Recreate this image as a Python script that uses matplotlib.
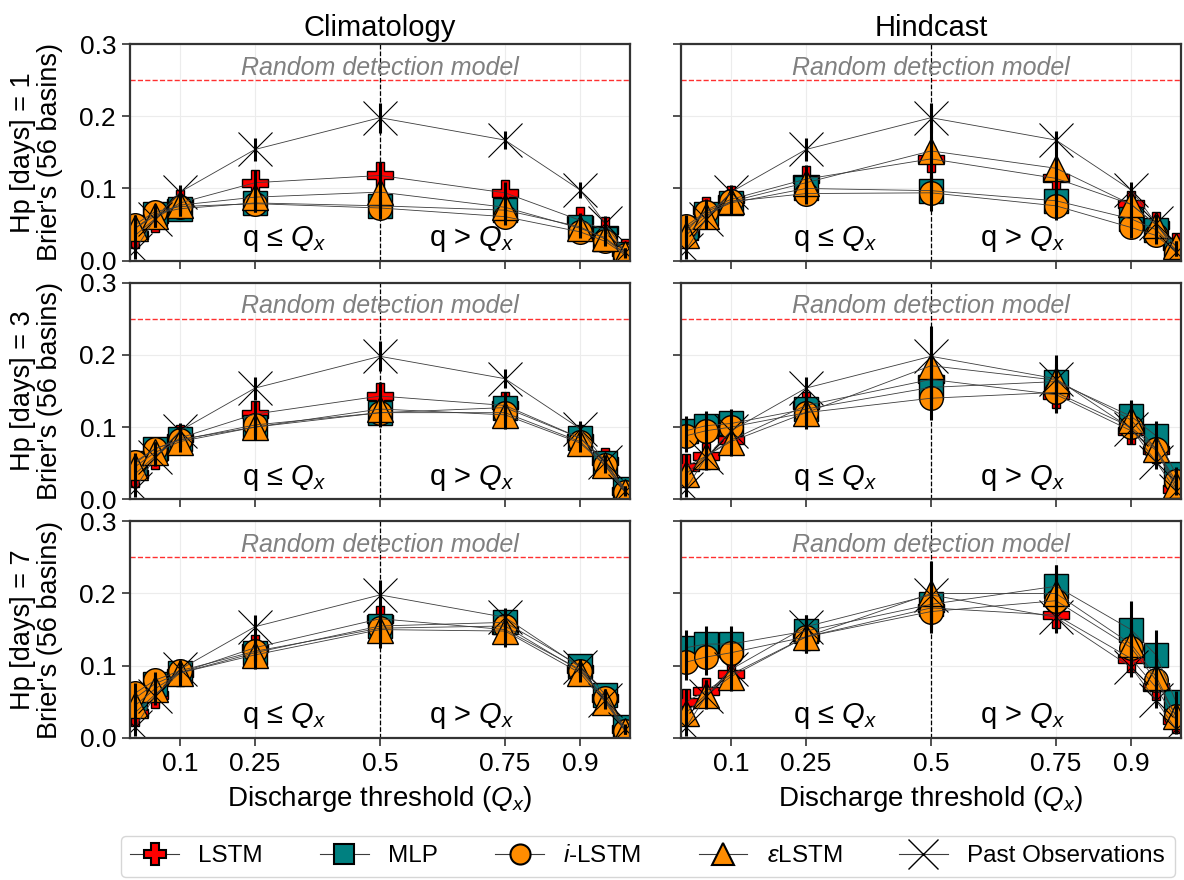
import matplotlib
matplotlib.use("Agg")
import matplotlib.pyplot as plt
from matplotlib.lines import Line2D

plt.rcParams["font.family"] = ["Liberation Sans", "DejaVu Sans"]
plt.rcParams["mathtext.fontset"] = "custom"
plt.rcParams["mathtext.rm"] = "Liberation Sans"
plt.rcParams["mathtext.it"] = "Liberation Sans:italic"

# Discharge thresholds (quantiles) and tick positions
thresholds = [0.01, 0.05, 0.1, 0.25, 0.5, 0.75, 0.9, 0.95, 0.99]
xtick_vals = [0.1, 0.25, 0.5, 0.75, 0.9]
xtick_labels = ["0.1", "0.25", "0.5", "0.75", "0.9"]
horizons = [1, 3, 7]
columns = ["Climatology", "Hindcast"]

# Past observations (persistence) - same reference in every panel
past_obs = [0.015, 0.058, 0.095, 0.154, 0.198, 0.167, 0.098, 0.052, 0.012]
past_obs_err = [0.012, 0.012, 0.010, 0.016, 0.021, 0.013, 0.011, 0.010, 0.006]

# Climatology, Hp = 1
clim_h1_lstm = [0.035, 0.058, 0.080, 0.108, 0.118, 0.094, 0.056, 0.042, 0.012]
clim_h1_mlp = [0.045, 0.065, 0.072, 0.080, 0.076, 0.070, 0.047, 0.030, 0.010]
clim_h1_ilstm = [0.050, 0.068, 0.075, 0.079, 0.073, 0.061, 0.040, 0.027, 0.008]
clim_h1_elstm = [0.045, 0.062, 0.077, 0.088, 0.095, 0.074, 0.045, 0.032, 0.010]
clim_h1_lstm_err = [0.015, 0.012, 0.012, 0.017, 0.018, 0.015, 0.010, 0.008, 0.005]
clim_h1_mlp_err = [0.012, 0.010, 0.010, 0.012, 0.015, 0.012, 0.008, 0.007, 0.004]
clim_h1_ilstm_err = [0.012, 0.010, 0.010, 0.012, 0.015, 0.012, 0.008, 0.007, 0.004]
clim_h1_elstm_err = [0.018, 0.015, 0.015, 0.018, 0.028, 0.016, 0.010, 0.008, 0.005]

# Hindcast, Hp = 1
hind_h1_lstm = [0.040, 0.070, 0.085, 0.113, 0.141, 0.114, 0.078, 0.050, 0.020]
hind_h1_mlp = [0.045, 0.065, 0.080, 0.100, 0.097, 0.083, 0.058, 0.043, 0.015]
hind_h1_ilstm = [0.048, 0.068, 0.082, 0.093, 0.094, 0.076, 0.046, 0.035, 0.012]
hind_h1_elstm = [0.035, 0.062, 0.082, 0.108, 0.152, 0.128, 0.078, 0.050, 0.020]
hind_h1_lstm_err = [0.018, 0.015, 0.015, 0.020, 0.030, 0.025, 0.015, 0.012, 0.008]
hind_h1_mlp_err = [0.015, 0.012, 0.012, 0.015, 0.020, 0.018, 0.012, 0.010, 0.006]
hind_h1_ilstm_err = [0.015, 0.012, 0.012, 0.015, 0.025, 0.020, 0.015, 0.012, 0.006]
hind_h1_elstm_err = [0.020, 0.018, 0.018, 0.022, 0.060, 0.045, 0.020, 0.015, 0.008]

# Climatology, Hp = 3
clim_h3_lstm = [0.035, 0.060, 0.085, 0.118, 0.143, 0.130, 0.085, 0.053, 0.012]
clim_h3_mlp = [0.050, 0.070, 0.083, 0.100, 0.120, 0.127, 0.085, 0.050, 0.015]
clim_h3_ilstm = [0.052, 0.070, 0.082, 0.103, 0.120, 0.120, 0.080, 0.048, 0.010]
clim_h3_elstm = [0.045, 0.065, 0.080, 0.100, 0.125, 0.117, 0.078, 0.047, 0.010]
clim_h3_lstm_err = [0.015, 0.012, 0.012, 0.018, 0.020, 0.018, 0.010, 0.008, 0.005]
clim_h3_mlp_err = [0.012, 0.010, 0.010, 0.012, 0.015, 0.014, 0.008, 0.007, 0.004]
clim_h3_ilstm_err = [0.012, 0.010, 0.010, 0.012, 0.015, 0.014, 0.008, 0.007, 0.004]
clim_h3_elstm_err = [0.018, 0.015, 0.015, 0.018, 0.025, 0.020, 0.012, 0.010, 0.005]

# Hindcast, Hp = 3
hind_h3_lstm = [0.045, 0.060, 0.082, 0.130, 0.166, 0.145, 0.095, 0.068, 0.015]
hind_h3_mlp = [0.095, 0.102, 0.105, 0.125, 0.155, 0.163, 0.115, 0.088, 0.035]
hind_h3_ilstm = [0.088, 0.095, 0.100, 0.120, 0.140, 0.148, 0.100, 0.070, 0.025]
hind_h3_elstm = [0.035, 0.060, 0.080, 0.120, 0.185, 0.165, 0.110, 0.070, 0.020]
hind_h3_lstm_err = [0.018, 0.015, 0.015, 0.020, 0.030, 0.025, 0.018, 0.015, 0.008]
hind_h3_mlp_err = [0.020, 0.020, 0.020, 0.020, 0.030, 0.025, 0.022, 0.020, 0.010]
hind_h3_ilstm_err = [0.022, 0.022, 0.022, 0.020, 0.030, 0.025, 0.022, 0.020, 0.010]
hind_h3_elstm_err = [0.022, 0.020, 0.020, 0.022, 0.055, 0.035, 0.025, 0.020, 0.010]

# Climatology, Hp = 7
clim_h7_lstm = [0.035, 0.060, 0.090, 0.125, 0.165, 0.150, 0.095, 0.055, 0.012]
clim_h7_mlp = [0.055, 0.075, 0.090, 0.118, 0.155, 0.160, 0.100, 0.060, 0.015]
clim_h7_ilstm = [0.062, 0.080, 0.093, 0.120, 0.152, 0.155, 0.093, 0.055, 0.010]
clim_h7_elstm = [0.045, 0.068, 0.090, 0.115, 0.150, 0.148, 0.090, 0.050, 0.010]
clim_h7_lstm_err = [0.015, 0.012, 0.012, 0.018, 0.020, 0.018, 0.010, 0.008, 0.005]
clim_h7_mlp_err = [0.012, 0.012, 0.012, 0.014, 0.016, 0.014, 0.010, 0.008, 0.004]
clim_h7_ilstm_err = [0.014, 0.012, 0.012, 0.014, 0.016, 0.014, 0.010, 0.008, 0.004]
clim_h7_elstm_err = [0.020, 0.018, 0.018, 0.020, 0.025, 0.022, 0.012, 0.010, 0.005]

# Hindcast, Hp = 7
hind_h7_lstm = [0.050, 0.065, 0.088, 0.140, 0.180, 0.170, 0.110, 0.070, 0.025]
hind_h7_mlp = [0.125, 0.130, 0.130, 0.148, 0.185, 0.210, 0.150, 0.115, 0.050]
hind_h7_ilstm = [0.105, 0.112, 0.118, 0.140, 0.175, 0.190, 0.125, 0.080, 0.030]
hind_h7_elstm = [0.035, 0.060, 0.085, 0.140, 0.200, 0.200, 0.130, 0.085, 0.030]
hind_h7_lstm_err = [0.018, 0.015, 0.015, 0.020, 0.030, 0.025, 0.020, 0.015, 0.010]
hind_h7_mlp_err = [0.025, 0.025, 0.025, 0.022, 0.030, 0.030, 0.040, 0.035, 0.015]
hind_h7_ilstm_err = [0.025, 0.025, 0.025, 0.022, 0.030, 0.030, 0.040, 0.035, 0.015]
hind_h7_elstm_err = [0.022, 0.020, 0.020, 0.022, 0.045, 0.040, 0.030, 0.030, 0.015]

panels = {
    (1, 0): [(clim_h1_lstm, clim_h1_lstm_err), (clim_h1_mlp, clim_h1_mlp_err),
             (clim_h1_ilstm, clim_h1_ilstm_err), (clim_h1_elstm, clim_h1_elstm_err)],
    (1, 1): [(hind_h1_lstm, hind_h1_lstm_err), (hind_h1_mlp, hind_h1_mlp_err),
             (hind_h1_ilstm, hind_h1_ilstm_err), (hind_h1_elstm, hind_h1_elstm_err)],
    (3, 0): [(clim_h3_lstm, clim_h3_lstm_err), (clim_h3_mlp, clim_h3_mlp_err),
             (clim_h3_ilstm, clim_h3_ilstm_err), (clim_h3_elstm, clim_h3_elstm_err)],
    (3, 1): [(hind_h3_lstm, hind_h3_lstm_err), (hind_h3_mlp, hind_h3_mlp_err),
             (hind_h3_ilstm, hind_h3_ilstm_err), (hind_h3_elstm, hind_h3_elstm_err)],
    (7, 0): [(clim_h7_lstm, clim_h7_lstm_err), (clim_h7_mlp, clim_h7_mlp_err),
             (clim_h7_ilstm, clim_h7_ilstm_err), (clim_h7_elstm, clim_h7_elstm_err)],
    (7, 1): [(hind_h7_lstm, hind_h7_lstm_err), (hind_h7_mlp, hind_h7_mlp_err),
             (hind_h7_ilstm, hind_h7_ilstm_err), (hind_h7_elstm, hind_h7_elstm_err)],
}

model_labels = ["LSTM", "MLP", "$i$-LSTM", r"$\varepsilon$LSTM"]
model_styles = [
    dict(marker="P", mfc="#ff0000", ms=19),
    dict(marker="s", mfc="#008080", ms=17),
    dict(marker="o", mfc="#ff8c00", ms=17),
    dict(marker="^", mfc="#ff8c00", ms=19),
]
line_color = "#3c3c3c"

fig, axes = plt.subplots(3, 2, figsize=(11.84, 8.8), dpi=100, sharex=True, sharey=True)
fig.subplots_adjust(left=0.1098, right=0.9975, top=0.95, bottom=0.1614,
                    wspace=0.102, hspace=0.101)

for r, hp in enumerate(horizons):
    for c, col in enumerate(columns):
        ax = axes[r, c]
        series = panels[(hp, c)]

        ax.set_axisbelow(True)
        ax.grid(True, color="#ececec", linewidth=0.8)
        ax.axhline(0.25, color="#ff3030", linestyle="--", linewidth=1.0, zorder=1.6)
        ax.axvline(0.5, color="black", linestyle="--", linewidth=0.9, zorder=1.6)
        ax.text(0.5, 0.267, "Random detection model", color="gray", style="italic",
                fontsize=18, ha="center", va="center", zorder=1.6)
        ax.text(0.307, 0.03, r"q ≤ $Q_x$", fontsize=21, ha="center", va="center")
        ax.text(0.683, 0.03, r"q > $Q_x$", fontsize=21, ha="center", va="center")

        for (vals, err), style in zip(series, model_styles):
            ax.plot(thresholds, vals, linestyle="none", mec="black", mew=1.0,
                    zorder=2, **style)
            ax.plot(thresholds, vals, color=line_color, linewidth=0.6, zorder=3)
            ax.errorbar(thresholds, vals, yerr=err, fmt="none", ecolor="black",
                        elinewidth=2.2, capsize=0, zorder=4)

        ax.plot(thresholds, past_obs, linestyle="none", marker="x", ms=25,
                mec="black", mew=0.8, zorder=2.5)
        ax.plot(thresholds, past_obs, color=line_color, linewidth=0.6, zorder=3)
        ax.errorbar(thresholds, past_obs, yerr=past_obs_err, fmt="none",
                    ecolor="black", elinewidth=2.2, capsize=0, zorder=4)

        ax.set_xlim(0, 1)
        ax.set_ylim(0, 0.3)
        ax.set_xticks(xtick_vals)
        ax.set_xticklabels(xtick_labels)
        ax.set_yticks([0.0, 0.1, 0.2, 0.3])
        ax.tick_params(axis="both", direction="out", length=6, width=1.2, pad=4,
                       labelsize=19, color="#333333")
        for spine in ax.spines.values():
            spine.set_linewidth(1.6)
            spine.set_color("#333333")

        if r == 0:
            ax.set_title(col, fontsize=21, pad=6)
        if c == 0:
            ax.set_ylabel(f"Hp [days] = {hp}\nBrier's (56 basins)", fontsize=19.5,
                          linespacing=1.05, labelpad=12)
        if r == 2:
            ax.set_xlabel("Discharge threshold ($Q_x$)", fontsize=20, labelpad=6)

# Legend handles: marker with a thin line through it
handles = []
for label, style in zip(model_labels, model_styles):
    handles.append(Line2D([], [], color=line_color, linewidth=0.8, mec="black",
                          mew=1.5, label=label, **style))
handles.append(Line2D([], [], color=line_color, linewidth=0.8, marker="x", ms=25,
                      mec="black", mew=1.0, label="Past Observations"))

fig.legend(handles=handles, loc="lower center", bbox_to_anchor=(0.547, -0.005),
           ncol=5, fontsize=17.5, frameon=True, fancybox=True, edgecolor="#cccccc",
           handlelength=2.0, handletextpad=0.8, columnspacing=2.35,
           markerscale=0.85, borderpad=0.4, borderaxespad=0.3)

fig.savefig("out.png", dpi=100)
